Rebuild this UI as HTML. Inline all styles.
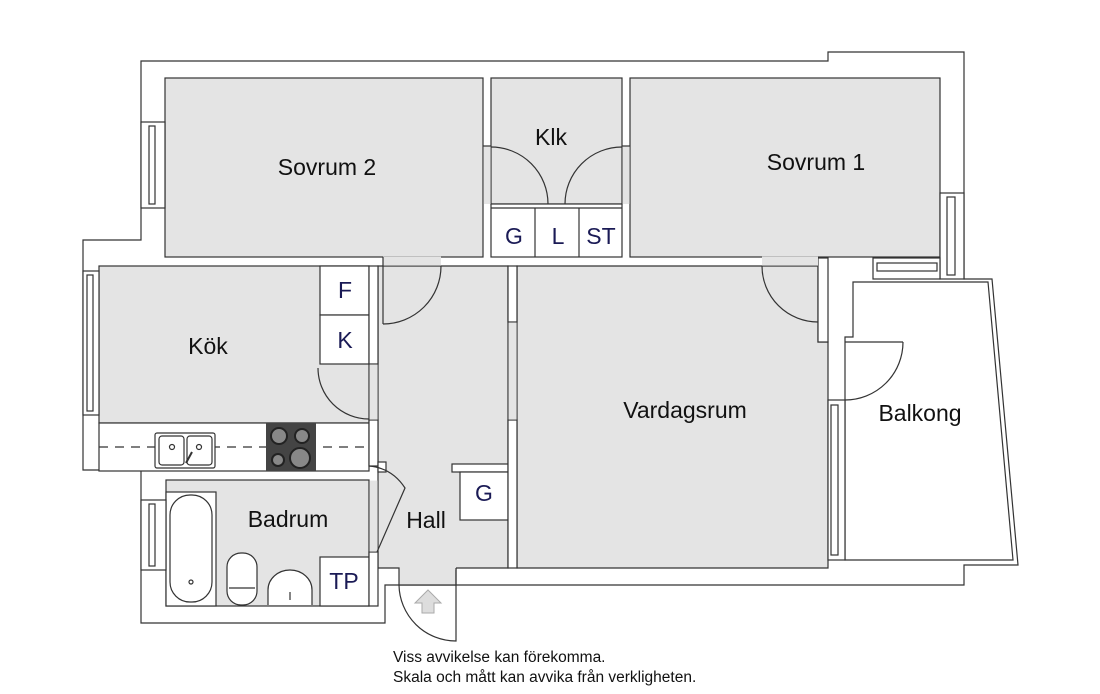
<!DOCTYPE html>
<html><head><meta charset="utf-8"><style>
html,body{margin:0;padding:0;background:#fff}
svg{display:block}
text{font-family:"Liberation Sans",Arial,sans-serif}
</style></head><body>
<svg width="1100" height="694" viewBox="0 0 1100 694" xmlns="http://www.w3.org/2000/svg">
<g stroke="#333" stroke-width="1.2" fill="none">
<path d="M141,61 H828 V52 H964 V279 H992 L1018,565 H964 V585 H385 V623 H141 V470 H83 V240 H141 Z" fill="#fff"/>
<path d="M853,282 H988 L1013,560 H845 V337 H853 Z" fill="#fff"/>
<g fill="#e4e4e4">
<rect x="165" y="78" width="318" height="179"/>
<rect x="491" y="78" width="131" height="126"/>
<rect x="630" y="78" width="310" height="179"/>
<rect x="99" y="266" width="270" height="157"/>
<path d="M378,266 H508 V568 H456 V585 H399 V568 H378 Z"/>
<path d="M517,266 H818 V342 H828 V568 H517 Z"/>
<rect x="166" y="480" width="203" height="126"/>
</g>
<rect x="491" y="204" width="131" height="53" fill="#fff"/>
<line x1="491" y1="208" x2="622" y2="208"/>
<line x1="535" y1="208" x2="535" y2="257"/><line x1="579" y1="208" x2="579" y2="257"/>
<rect x="320" y="266" width="49" height="49" fill="#fff"/>
<rect x="320" y="315" width="49" height="49" fill="#fff"/>
<rect x="99" y="423" width="270" height="48" fill="#fff"/>
<rect x="452" y="464" width="56" height="8" fill="#fff"/>
<rect x="460" y="472" width="48" height="48" fill="#fff"/>
<rect x="166" y="492" width="50" height="114" fill="#fff"/>
<rect x="320" y="557" width="49" height="49" fill="#fff"/>
<rect x="508" y="266" width="9" height="56" fill="#fff"/>
<rect x="508" y="420" width="9" height="148" fill="#fff"/>
<rect x="818" y="258" width="10" height="84" fill="#fff"/>
<rect x="369" y="266" width="9" height="98" fill="#fff"/>
<rect x="369" y="420" width="9" height="46" fill="#fff"/>
<rect x="378" y="462" width="8" height="10" fill="#fff"/>
<rect x="369" y="552" width="9" height="54" fill="#fff"/>
</g>
<g fill="#e4e4e4">
<rect x="483.6" y="146" width="7" height="58"/>
<rect x="622.6" y="146" width="7" height="58"/>
<rect x="383" y="256.6" width="58" height="9"/>
<rect x="762" y="256.6" width="56" height="9"/>
<rect x="508.6" y="322.6" width="8" height="97"/>
<rect x="369.6" y="364.6" width="8" height="55"/>
<rect x="369.6" y="480.6" width="8" height="71"/>
<rect x="400" y="567" width="56" height="3"/>
</g>
<g stroke="#333" stroke-width="1.2" fill="none">
<line x1="483" y1="146" x2="491" y2="146"/><line x1="622" y1="146" x2="630" y2="146"/>
<path d="M491,147 A57,57 0 0 1 548,204"/>
<path d="M622,147 A57,57 0 0 0 565,204"/>
<path d="M441,266 A58,58 0 0 1 383,324"/><line x1="383" y1="257" x2="383" y2="324"/>
<path d="M762,266 A56,56 0 0 0 818,322"/>
<path d="M318,368 A51,51 0 0 0 369,419"/>
<path d="M903,342 A58,58 0 0 1 845,400"/><line x1="845" y1="342" x2="903" y2="342"/>
<path d="M369,466 Q392,468 405,488 L377,552"/>
<path d="M399,585 A57,57 0 0 0 456,641 V568"/>
<rect x="141" y="122" width="24" height="86" fill="#fff"/><rect x="149" y="126" width="6" height="78"/>
<rect x="83" y="271" width="16" height="144" fill="#fff"/><rect x="87" y="275" width="6" height="136"/>
<rect x="141" y="500" width="25" height="70" fill="#fff"/><rect x="149" y="504" width="6" height="62"/>
<rect x="940" y="193" width="24" height="86" fill="#fff"/><rect x="947" y="197" width="8" height="78"/>
<rect x="873" y="258" width="67" height="21" fill="#fff"/><rect x="877" y="263" width="60" height="8"/>
<rect x="828" y="400" width="17" height="160" fill="#fff"/><rect x="831" y="405" width="7" height="150"/>
<line x1="99" y1="447" x2="369" y2="447" stroke-dasharray="9,7"/>
<rect x="155" y="433" width="60" height="35" rx="2" fill="#fff"/>
<rect x="159" y="436" width="25" height="29" rx="3"/><rect x="187" y="436" width="25" height="29" rx="3"/>
<circle cx="172" cy="447" r="2.5"/><circle cx="199" cy="447" r="2.5"/>
<line x1="186" y1="463" x2="192" y2="452" stroke-width="2"/>
<rect x="170" y="495" width="42" height="107" rx="20" fill="#fff"/>
<circle cx="191" cy="582" r="2"/>
<rect x="227" y="553" width="30" height="52" rx="14" fill="#fff"/>
<line x1="229" y1="588" x2="255" y2="588"/>
<path d="M268,605 V590 A22,20 0 0 1 312,590 V605" fill="#fff"/>
<line x1="290" y1="592" x2="290" y2="600"/>
</g>
<rect x="266" y="423" width="50" height="48" fill="#444"/>
<g fill="#888" stroke="#222" stroke-width="2">
<circle cx="279" cy="436" r="8"/><circle cx="302" cy="436" r="7"/>
<circle cx="278" cy="460" r="6"/><circle cx="300" cy="458" r="10"/>
</g>
<path d="M428,590 L441,603 H434 V613 H422 V603 H415 Z" fill="#ddd" stroke="#aaa"/>
<g font-size="23" fill="#111" text-anchor="middle">
<text x="327" y="175">Sovrum 2</text>
<text x="551" y="145">Klk</text>
<text x="816" y="170">Sovrum 1</text>
<text x="208" y="354">Kök</text>
<text x="685" y="418">Vardagsrum</text>
<text x="920" y="421">Balkong</text>
<text x="288" y="527">Badrum</text>
<text x="426" y="528">Hall</text>
</g>
<g font-size="23" fill="#1a1a55" text-anchor="middle">
<text x="514" y="244">G</text><text x="558" y="244">L</text><text x="601" y="244">ST</text>
<text x="345" y="298">F</text><text x="345" y="348">K</text>
<text x="484" y="501">G</text><text x="344" y="589">TP</text>
</g>
<g font-size="15.5" fill="#111">
<text x="393" y="662">Viss avvikelse kan förekomma.</text>
<text x="393" y="682">Skala och mått kan avvika från verkligheten.</text>
</g>
</svg>
</body></html>
